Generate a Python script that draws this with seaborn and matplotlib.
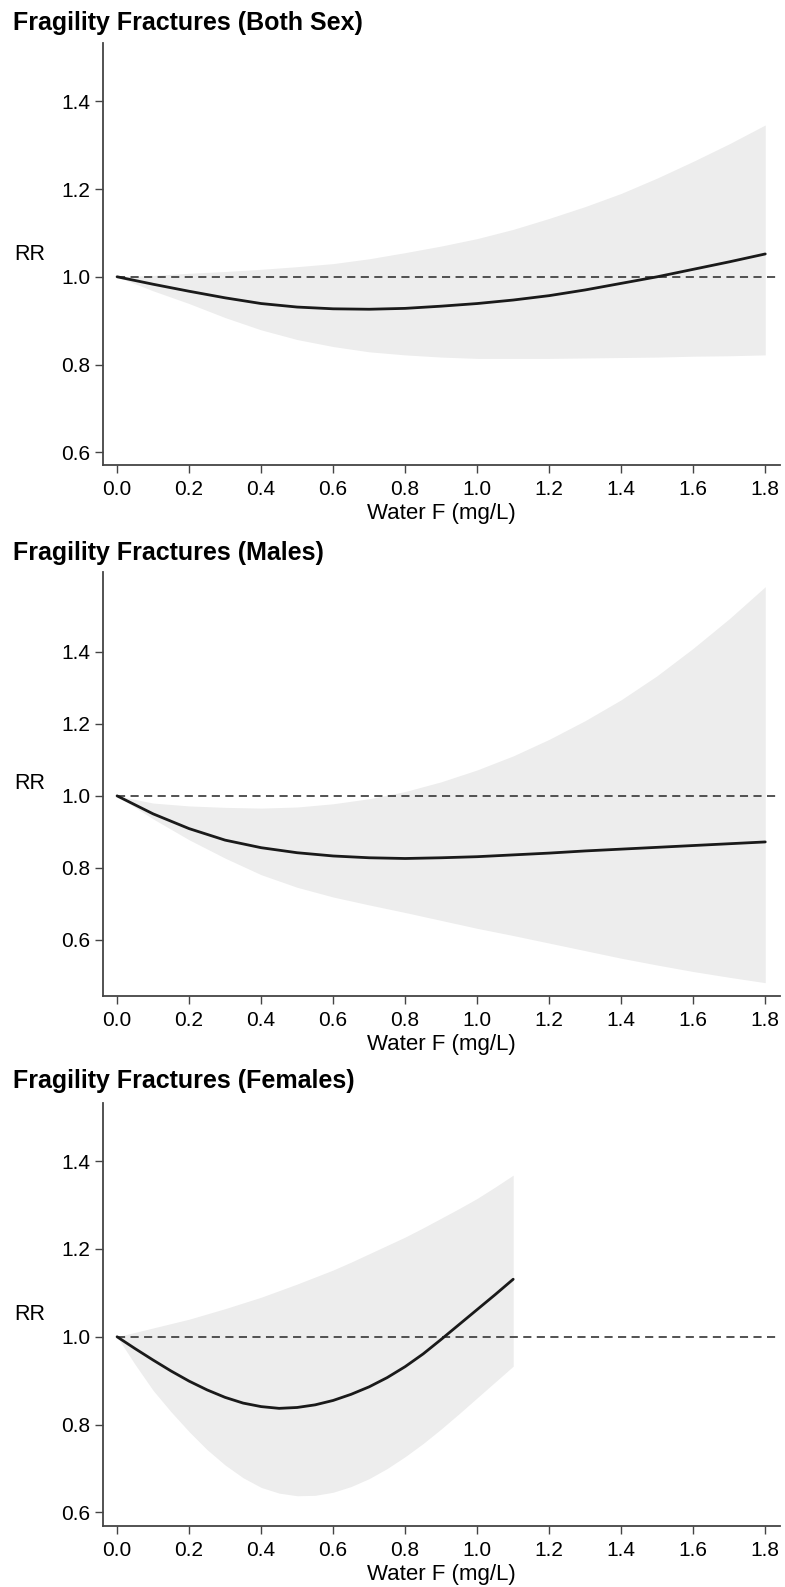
import matplotlib
matplotlib.use("Agg")
import matplotlib.pyplot as plt
import seaborn as sns
import pandas as pd

# Both sexes
both_x = [0.0, 0.1, 0.2, 0.3, 0.4, 0.5, 0.6, 0.7, 0.8, 0.9,
          1.0, 1.1, 1.2, 1.3, 1.4, 1.5, 1.6, 1.7, 1.8]
both_rr = [1.0, 0.983, 0.967, 0.952, 0.939, 0.931, 0.927, 0.926, 0.928, 0.933,
           0.939, 0.947, 0.957, 0.970, 0.985, 1.0, 1.017, 1.034, 1.052]
both_hi = [1.0, 1.003, 1.008, 1.012, 1.017, 1.023, 1.030, 1.041, 1.055, 1.070,
           1.087, 1.108, 1.133, 1.160, 1.190, 1.225, 1.263, 1.303, 1.346]
both_lo = [1.0, 0.968, 0.939, 0.907, 0.879, 0.857, 0.841, 0.829, 0.822, 0.817,
           0.814, 0.814, 0.814, 0.815, 0.816, 0.817, 0.819, 0.820, 0.822]

# Males
male_x = [0.0, 0.1, 0.2, 0.3, 0.4, 0.5, 0.6, 0.7, 0.8, 0.9,
          1.0, 1.1, 1.2, 1.3, 1.4, 1.5, 1.6, 1.7, 1.8]
male_rr = [1.0, 0.950, 0.909, 0.877, 0.856, 0.842, 0.833, 0.828, 0.826, 0.828,
           0.831, 0.836, 0.841, 0.847, 0.852, 0.857, 0.862, 0.867, 0.872]
male_hi = [1.0, 0.980, 0.972, 0.968, 0.966, 0.969, 0.978, 0.992, 1.012, 1.039,
           1.072, 1.111, 1.157, 1.209, 1.267, 1.334, 1.410, 1.492, 1.581]
male_lo = [1.0, 0.936, 0.878, 0.827, 0.781, 0.746, 0.719, 0.697, 0.676, 0.654,
           0.632, 0.612, 0.591, 0.570, 0.549, 0.530, 0.512, 0.496, 0.481]

# Females
fem_x = [0.0, 0.05, 0.1, 0.15, 0.2, 0.25, 0.3, 0.35, 0.4, 0.45, 0.5, 0.55,
         0.6, 0.65, 0.7, 0.75, 0.8, 0.85, 0.9, 0.95, 1.0, 1.05, 1.1]
fem_rr = [1.0, 0.973, 0.947, 0.922, 0.899, 0.879, 0.862, 0.849, 0.841, 0.837, 0.839, 0.845,
          0.855, 0.869, 0.886, 0.907, 0.932, 0.961, 0.994, 1.028, 1.062, 1.096, 1.131]
fem_hi = [1.0, 1.010, 1.020, 1.030, 1.040, 1.052, 1.064, 1.077, 1.090, 1.105, 1.120, 1.136,
          1.152, 1.170, 1.189, 1.208, 1.227, 1.248, 1.270, 1.292, 1.315, 1.341, 1.368]
fem_lo = [1.0, 0.937, 0.878, 0.829, 0.784, 0.743, 0.708, 0.679, 0.657, 0.644, 0.638, 0.639,
          0.646, 0.659, 0.677, 0.700, 0.727, 0.757, 0.790, 0.825, 0.861, 0.897, 0.933]

titles = ["Fragility Fractures (Both Sex)", "Fragility Fractures (Males)", "Fragility Fractures (Females)"]
x_ticks = [0.0, 0.2, 0.4, 0.6, 0.8, 1.0, 1.2, 1.4, 1.6, 1.8]
y_ticks = [0.6, 0.8, 1.0, 1.2, 1.4]

sns.set_style("ticks")
plt.rcParams['font.family'] = ['Liberation Sans', 'DejaVu Sans']
plt.rcParams['text.color'] = 'black'
plt.rcParams['axes.labelcolor'] = 'black'

fig = plt.figure(figsize=(7.85, 15.87), dpi=100)

panels = [
    (both_x, both_rr, both_hi, both_lo, (0.57, 1.532), [0.1308, 0.7067, 0.8624, 0.2660], 23),
    (male_x, male_rr, male_hi, male_lo, (0.444, 1.622), [0.1308, 0.3724, 0.8624, 0.2672], 553),
    (fem_x, fem_rr, fem_hi, fem_lo, (0.569, 1.532), [0.1308, 0.0384, 0.8624, 0.2665], 1081),
]

for (x, rr, hi, lo, ylim, rect, ty), title in zip(panels, titles):
    ax = fig.add_axes(rect)
    ax.fill_between(x, lo, hi, color="#ededed", lw=0)
    ax.axhline(1.0, xmin=0.04 / 1.88, color="#444444", lw=1.3, ls=(0, (4.5, 3)))
    df = pd.DataFrame({"x": x, "rr": rr})
    sns.lineplot(data=df, x="x", y="rr", ax=ax, color="#1a1a1a", lw=2.0)
    ax.set_xlim(-0.04, 1.84)
    ax.set_ylim(*ylim)
    ax.set_xticks(x_ticks)
    ax.set_xticklabels([f"{t:.1f}" for t in x_ticks])
    ax.set_yticks(y_ticks)
    ax.set_yticklabels([f"{t:.1f}" for t in y_ticks])
    ax.tick_params(labelsize=15, length=5.5, width=1, color="#444444", labelcolor="black")
    ax.tick_params(axis="x", pad=5)
    ax.tick_params(axis="y", pad=3.5)
    ax.set_xlabel("Water F (mg/L)", fontsize=16, labelpad=3)
    ax.set_ylabel("RR", fontsize=15.5, rotation=0, va="center", ha="center")
    ax.yaxis.set_label_coords(-0.108, 0.5)
    for s in ("left", "bottom"):
        ax.spines[s].set_color("#444444")
        ax.spines[s].set_linewidth(1.3)
    sns.despine(ax=ax)
    fig.text(13 / 785, 1 - ty / 1587, title, fontsize=18, fontweight="bold", ha="left", va="center")

fig.savefig("out.png", dpi=100)
